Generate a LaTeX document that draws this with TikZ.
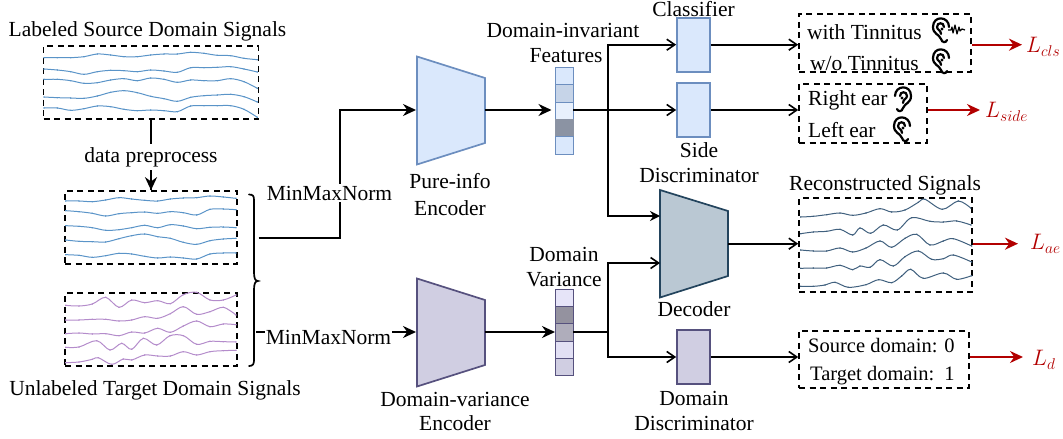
\documentclass[tikz,border=0pt]{standalone}
\usepackage{fontspec}
\setmainfont{Liberation Serif}
\usetikzlibrary{arrows.meta}
\definecolor{bfill}{HTML}{DAE8FC}
\definecolor{bline}{HTML}{6C8EBF}
\definecolor{pfill}{HTML}{D0CEE2}
\definecolor{pline}{HTML}{56517E}
\definecolor{dfill}{HTML}{BAC8D3}
\definecolor{dline}{HTML}{23445D}
\definecolor{lossred}{HTML}{B20000}
\definecolor{sigblue}{HTML}{5A94C8}
\definecolor{sigpurple}{HTML}{B48CCB}
\definecolor{sigdark}{HTML}{40607E}
\tikzset{
  x=1pt,y=-1pt,
  txt/.style={font=\fontsize{21.5}{24}\selectfont,inner sep=0pt,align=center},
  small/.style={font=\fontsize{20.5}{23}\selectfont,inner sep=0pt,align=center},
  dbox/.style={draw=black,line width=1.6pt,dash pattern=on 6pt off 4.5pt,inner sep=0pt},
  link/.style={draw=black,line width=2pt},
  thicklink/.style={draw=black,line width=2.6pt},
  barb/.style={-{Straight Barb[length=8pt,width=11pt,line width=1.6pt]}},
  solid tip/.style={-{Stealth[length=13pt,width=12pt]}},
  lossarrow/.style={draw=lossred,line width=2pt,-{Stealth[length=13pt,width=12pt,fill=lossred]}},
  loss/.style={text=lossred,font=\fontsize{24}{28}\selectfont,inner sep=0pt,scale=.9},
  blk/.style={line width=1.7pt,inner sep=0pt,rectangle},
  bluecell/.style={draw=bline,line width=1pt,minimum width=18pt,minimum height=17.3pt,inner sep=0pt},
  purplecell/.style={draw=pline,line width=1pt,minimum width=18pt,minimum height=17.3pt,inner sep=0pt},
  sig/.style={line width=1pt,line join=round,mark=*,mark size=.8pt,smooth,tension=.55},
  earline/.style={line width=2.2pt,line cap=round,draw=black,fill=none},
  ear/.pic={
    \draw[earline] (-8,-3) .. controls (-8,-14) and (8,-15) .. (8,-3)
      .. controls (8,4) and (2,4) .. (0,9) .. controls (-1,13) and (-5,13) .. (-6,10);
    \draw[earline] (-3,-3) .. controls (-3,-8) and (4,-8) .. (4,-3)
      .. controls (4,0) and (0,0) .. (0,4);
    \fill (-1,-1) circle (1.6);
  },
}
\newcommand{\signal}[2]{\draw[sig,#1,mark options={draw=#1,fill=#1}] plot coordinates {#2};}
\begin{document}
\begin{tikzpicture}
\useasboundingbox (0,0) rectangle (1063,439);

% dashed signal boxes
\node[dbox,minimum width=215pt,minimum height=73pt] (srcbox) at (151,82.5) {};
\node[dbox,minimum width=172pt,minimum height=73pt] (bluebox) at (151,227.5) {};
\node[dbox,minimum width=172pt,minimum height=73pt] (purplebox) at (151,329.5) {};
\node[dbox,minimum width=173pt,minimum height=94pt] (recbox) at (885.5,245) {};
\node[dbox,minimum width=172pt,minimum height=57.7pt] (clsbox) at (885,42.9) {};
\node[dbox,minimum width=128pt,minimum height=58.7pt] (sidebox) at (863,113.4) {};
\node[dbox,minimum width=170pt,minimum height=57.3pt] (dombox) at (884,359.4) {};

% source signals
\begin{scope}[shift={(40,40)},scale=1/3]
\signal{sigblue}{(12,53)(52,53)(92,53)(132,50)(172,42)(212,45)(252,50)(292,50)(332,45)(372,42)(412,42)(452,37)(492,40)(532,46)(572,47)(612,55)(652,59)}
\signal{sigblue}{(12,87)(52,90)(92,95)(132,103)(172,95)(212,91)(252,92)(292,95)(332,90)(372,93)(412,97)(452,83)(492,83)(532,82)(572,80)(612,87)(652,96)}
\signal{sigblue}{(12,118)(52,118)(92,122)(132,130)(172,128)(212,120)(252,116)(292,122)(332,114)(372,118)(412,127)(452,120)(492,122)(532,122)(572,116)(612,125)(652,145)}
\signal{sigblue}{(12,171)(52,173)(92,174)(132,175)(172,168)(212,157)(252,152)(292,158)(332,169)(372,176)(412,184)(452,172)(492,167)(532,165)(572,163)(612,170)(652,186)}
\signal{sigblue}{(12,204)(52,204)(92,211)(132,206)(172,198)(212,200)(252,208)(292,212)(332,210)(372,212)(412,215)(452,198)(492,197)(532,197)(572,197)(612,208)(652,232)}
\end{scope}
% preprocessed source signals
\begin{scope}[shift={(60,185)},scale=1/3]
\signal{sigblue}{(17,48)(57,48)(97,50)(137,45)(177,38)(215,42)(254,46)(293,48)(331,42)(370,39)(410,38)(450,33)(490,36)(528,40)}
\signal{sigblue}{(17,77)(57,80)(97,85)(137,93)(177,86)(215,83)(254,81)(293,85)(331,80)(370,83)(410,90)(450,73)(490,72)(528,74)}
\signal{sigblue}{(17,122)(57,124)(97,128)(137,136)(177,134)(215,128)(254,121)(293,128)(331,119)(370,123)(410,131)(450,127)(490,126)(528,128)}
\signal{sigblue}{(17,165)(57,169)(97,170)(137,171)(177,161)(215,152)(254,147)(293,155)(331,160)(370,172)(410,178)(450,167)(490,162)(528,160)}
\signal{sigblue}{(17,209)(57,211)(97,217)(137,212)(177,205)(215,207)(254,214)(293,219)(331,216)(370,219)(410,222)(450,207)(490,204)(528,204)}
\end{scope}
% target signals
\begin{scope}[shift={(60,285)},scale=1/3]
\signal{sigpurple}{(17,61)(57,63)(97,57)(137,37)(177,67)(215,45)(254,53)(293,47)(331,56)(370,29)(410,22)(450,45)(490,45)(528,30)}
\signal{sigpurple}{(17,105)(57,105)(97,103)(137,103)(177,108)(215,105)(254,95)(293,100)(331,86)(370,65)(410,88)(450,80)(490,67)(528,90)}
\signal{sigpurple}{(17,146)(57,144)(97,147)(137,146)(177,152)(215,141)(254,144)(293,130)(331,142)(370,123)(410,108)(450,125)(490,117)(528,119)}
\signal{sigpurple}{(17,187)(57,186)(110,167)(150,195)(185,175)(215,193)(250,160)(290,180)(330,152)(370,152)(410,178)(450,169)(490,170)(528,171)}
\signal{sigpurple}{(17,233)(57,231)(97,223)(115,218)(155,238)(190,222)(215,225)(254,210)(293,213)(331,213)(370,200)(410,210)(450,200)(490,197)(528,196)}
\end{scope}
% reconstructed signals
\begin{scope}[shift={(780,170)},scale=1/3]
\signal{sigdark}{(62,141)(100,139)(140,134)(180,129)(218,136)(258,129)(300,116)(335,126)(375,120)(415,97)(435,88)(487,118)(535,93)(572,114)}
\signal{sigdark}{(62,191)(100,186)(140,184)(180,178)(218,195)(240,174)(272,190)(310,165)(352,180)(395,143)(450,154)(490,156)(530,153)(573,165)}
\signal{sigdark}{(62,240)(100,243)(140,243)(180,234)(218,246)(258,234)(300,213)(335,232)(375,205)(410,193)(450,225)(490,213)(520,206)(575,228)}
\signal{sigdark}{(62,295)(100,294)(140,294)(180,286)(218,299)(240,288)(270,292)(300,269)(340,288)(375,260)(415,243)(455,268)(490,266)(520,255)(575,276)}
\signal{sigdark}{(62,349)(100,349)(135,345)(165,337)(205,352)(258,344)(296,329)(335,338)(365,318)(392,298)(430,325)(490,309)(530,328)(575,317)}
\end{scope}

% trapezoids
\draw[draw=bline,fill=bfill,line width=1.7pt] (417,56.5) -- (485,78) -- (485,143) -- (417,164.5) -- cycle;
\draw[draw=pline,fill=pfill,line width=1.7pt] (417,278.5) -- (485,300) -- (485,365) -- (417,386.5) -- cycle;
\draw[draw=dline,fill=dfill,line width=1.7pt] (660,190) -- (728,211) -- (728,276) -- (660,297.5) -- cycle;
\coordinate (pureIn) at (416,110);
\coordinate (pureOut) at (485,110);
\coordinate (varIn) at (416,332);
\coordinate (varOut) at (485,332);
\coordinate (decInA) at (660,216);
\coordinate (decInB) at (660,263);
\coordinate (decOut) at (728,243.7);

% feature stacks
\node[bluecell,fill=bfill] (a1) at (564.3,76.3) {};
\node[bluecell,fill={rgb,255:red,198;green,212;blue,232}] (a2) at (564.3,93.6) {};
\node[bluecell,fill={rgb,255:red,232;green,240;blue,252}] (a3) at (564.3,110.9) {};
\node[bluecell,draw={rgb,255:red,139;green,147;blue,163},fill={rgb,255:red,139;green,147;blue,163}] (a4) at (564.3,128.2) {};
\node[bluecell,fill=bfill] (a5) at (564.3,145.5) {};
\node[purplecell,fill={rgb,255:red,230;green,228;blue,248}] (b1) at (564.3,298) {};
\node[purplecell,fill={rgb,255:red,148;green,146;blue,159}] (b2) at (564.3,315.3) {};
\node[purplecell,fill={rgb,255:red,175;green,173;blue,187}] (b3) at (564.3,332.6) {};
\node[purplecell,fill={rgb,255:red,226;green,224;blue,244}] (b4) at (564.3,349.9) {};
\node[purplecell,fill=pfill] (b5) at (564.3,367.2) {};

% blocks
\node[blk,draw=bline,fill=bfill,minimum width=33pt,minimum height=54pt] (cls) at (693.5,44.7) {};
\node[blk,draw=bline,fill=bfill,minimum width=33pt,minimum height=54pt] (side) at (693.5,110) {};
\node[blk,draw=pline,fill=pfill,minimum width=33pt,minimum height=54pt] (dom) at (693.5,357) {};

% brace
\draw[line width=1.7pt,line cap=round] (249,194.5) .. controls (253,194.5) and (254,196) .. (254,200)
  -- (254,272) .. controls (254,278) and (255,281) .. (258,281)
  .. controls (255,281) and (254,284) .. (254,290) -- (254,360) .. controls (254,364) and (253,366) .. (249,366);
\coordinate (braceTop) at (258.5,237.5);
\coordinate (braceBot) at (256,332);

% connectors
\draw[link,solid tip] (braceTop) -- (340,237.5) -- (340,110) -- (pureIn);
\draw[link,solid tip] (braceBot) -- (varIn);
\draw[link] (srcbox.south) -- (bluebox.north);
\draw[-{Stealth[length=13pt,width=12pt]},link] (151,170) -- (bluebox.north);
\draw[link,solid tip] (pureOut) -- (551.5,110);
\draw[link,solid tip] (varOut) -- (555,332);

\coordinate (j1) at (608,110);
\coordinate (j2) at (608,332);
\draw[thicklink] (573.3,110) -- (j1);
\draw[thicklink] (573.3,332) -- (j2);
\draw[link,barb] (j1) -- (j1 |- cls.west) -- (cls.west);
\draw[link,barb] (j1) -- (side.west);
\draw[link,-{Stealth[length=10pt,width=10pt]}] (j1) -- (j1 |- decInA) -- (decInA);
\draw[link,barb] (j2) -- (j2 |- decInB) -- (decInB);
\draw[link,barb] (j2) -- (j2 |- dom.west) -- (dom.west);

\draw[link,barb] (cls.east) -- (clsbox.west |- cls.east);
\draw[link,barb] (side.east) -- (sidebox.west |- side.east);
\draw[link,barb] (decOut) -- (recbox.west |- decOut);
\draw[link,barb] (dom.east) -- (dombox.west |- dom.east);

% loss arrows and labels
\node[loss,anchor=west] (lcls) at (1026,47) {\(L_{cls}\)};
\node[loss,anchor=west] (lside) at (985,112) {\(L_{side}\)};
\node[loss,anchor=west] (lae) at (1030,244) {\(L_{ae}\)};
\node[loss,anchor=west] (ld) at (1032,360) {\(L_{d}\)};
\coordinate (tcls) at (1022,44.7);
\coordinate (tside) at (980,110);
\coordinate (tae) at (1018,243.7);
\coordinate (td) at (1023,357);
\draw[lossarrow] (clsbox.east |- tcls) -- (tcls);
\draw[lossarrow] (sidebox.east |- tside) -- (tside);
\draw[lossarrow] (recbox.east |- tae) -- (tae);
\draw[lossarrow] (dombox.east |- td) -- (td);

% labels
\node[txt] (t1) at (147.5,31) {Labeled Source Domain Signals};
\node[txt] (t2) at (155,390) {Unlabeled Target Domain Signals};
\node[txt,fill=white,inner ysep=3pt,inner xsep=1pt] (t3) at (151,157) {data preprocess};
\node[txt,fill=white,inner ysep=2pt,inner xsep=1pt] (t4) at (329.5,193) {MinMaxNorm};
\node[txt,fill=white,inner ysep=2pt,inner xsep=1pt] (t5) at (328.5,337) {MinMaxNorm};
\node[txt] (t6) at (450,195) {Pure-info\\[3pt]Encoder};
\node[txt] (t7) at (455,411) {Domain-variance\\Encoder};
\node[txt] (t8) at (563,30) {Domain-invariant};
\node[txt] (t9) at (566,56) {Features};
\node[txt] (t10) at (693.5,9) {Classifier};
\node[txt] (t11) at (699,150) {Side};
\node[txt] (t12) at (699,175) {Discriminator};
\node[txt] (t13) at (564,254) {Domain};
\node[txt] (t14) at (564,280) {Variance};
\node[txt] (t15) at (694,309) {Decoder};
\node[txt] (t16) at (694,398) {Domain};
\node[txt] (t17) at (694,423) {Discriminator};
\node[txt] (t18) at (885,185) {Reconstructed Signals};
\node[txt,anchor=west] (t19) at (807,32) {with Tinnitus};
\node[txt,anchor=west] (t20) at (810,63) {w/o Tinnitus};
\node[txt,anchor=west] (t21) at (808,100) {Right ear};
\node[txt,anchor=west] (t22) at (808,130) {Left ear};
\node[small,anchor=west] (t23) at (808,346) {Source domain: 0};
\node[small,anchor=west] (t24) at (810,376) {Target domain:\ \ 1};

% ear icons
\pic[xscale=-1] at (941,30) {ear};
\pic[xscale=-1] at (941,61) {ear};
\pic at (903,99) {ear};
\pic[xscale=-1] at (902,129) {ear};
\draw[line width=1.2pt,line join=round] (948,30) -- (951,30) -- (952,27) -- (953,33) -- (955,25) -- (957,34) -- (959,27) -- (960,31) -- (962,29) -- (965,30);
\end{tikzpicture}
\end{document}
